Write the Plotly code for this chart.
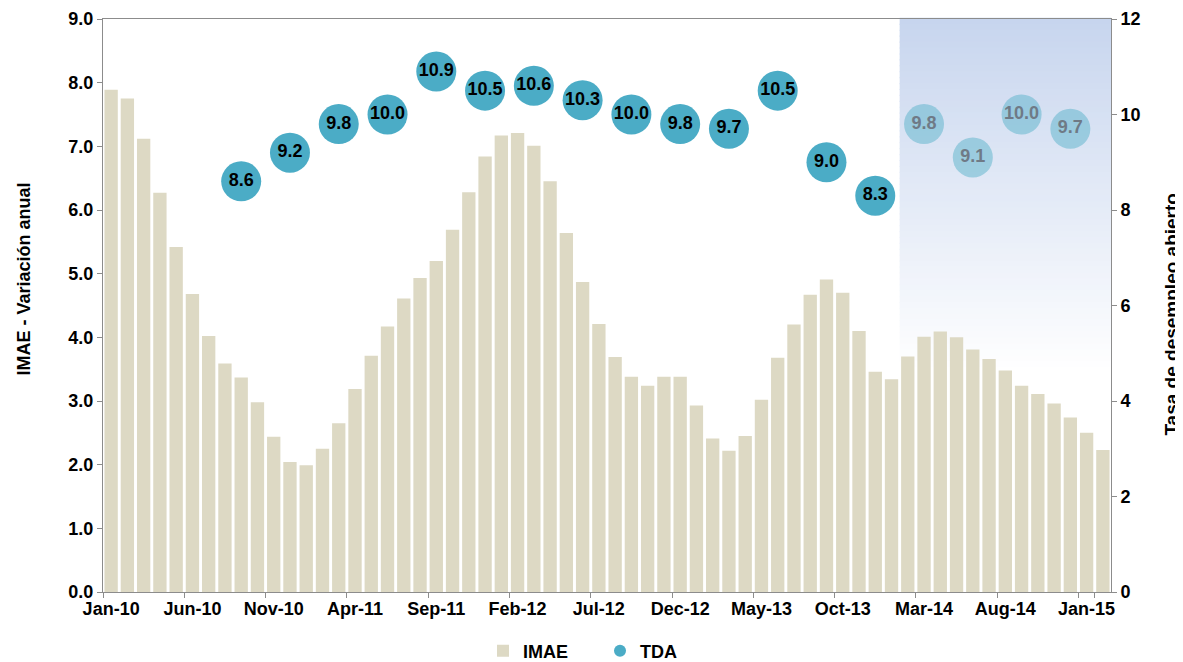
import plotly.graph_objects as go

months = [
    "Jan-10", "Feb-10", "Mar-10", "Apr-10", "May-10", "Jun-10", "Jul-10", "Aug-10", "Sep-10", "Oct-10", "Nov-10", "Dec-10",
    "Jan-11", "Feb-11", "Mar-11", "Apr-11", "May-11", "Jun-11", "Jul-11", "Aug-11", "Sep-11", "Oct-11", "Nov-11", "Dec-11",
    "Jan-12", "Feb-12", "Mar-12", "Apr-12", "May-12", "Jun-12", "Jul-12", "Aug-12", "Sep-12", "Oct-12", "Nov-12", "Dec-12",
    "Jan-13", "Feb-13", "Mar-13", "Apr-13", "May-13", "Jun-13", "Jul-13", "Aug-13", "Sep-13", "Oct-13", "Nov-13", "Dec-13",
    "Jan-14", "Feb-14", "Mar-14", "Apr-14", "May-14", "Jun-14", "Jul-14", "Aug-14", "Sep-14", "Oct-14", "Nov-14", "Dec-14",
    "Jan-15", "Feb-15",
]

imae = [
    7.89, 7.75, 7.12, 6.27, 5.42, 4.68, 4.02, 3.59, 3.37, 2.98, 2.44, 2.04,
    1.99, 2.25, 2.65, 3.19, 3.71, 4.17, 4.61, 4.93, 5.20, 5.69, 6.28, 6.84,
    7.17, 7.21, 7.01, 6.45, 5.64, 4.87, 4.21, 3.69, 3.38, 3.24, 3.38, 3.38,
    2.93, 2.41, 2.22, 2.45, 3.02, 3.68, 4.20, 4.67, 4.91, 4.70, 4.10, 3.46,
    3.34, 3.70, 4.01, 4.09, 4.00, 3.81, 3.66, 3.48, 3.24, 3.11, 2.96, 2.74,
    2.50, 2.23,
]

tda_months = ["Sep-10", "Dec-10", "Mar-11", "Jun-11", "Sep-11", "Dec-11", "Mar-12", "Jun-12", "Sep-12",
              "Dec-12", "Mar-13", "Jun-13", "Sep-13", "Dec-13", "Mar-14", "Jun-14", "Sep-14", "Dec-14"]
tda = [8.6, 9.2, 9.8, 10.0, 10.9, 10.5, 10.6, 10.3, 10.0,
       9.8, 9.7, 10.5, 9.0, 8.3, 9.8, 9.1, 10.0, 9.7]
tda_estimated = [False] * 14 + [True] * 4

tick_labels = months[::5]

left_title = "IMAE - Variación anual"
right_title = "Tasa de desempleo abierto"

shade_start = "Jan-14"  # shaded (projected) period begins after this month

BAR_COLOR = "#ddd9c4"
BUBBLE = "#4bacc6"
BUBBLE_LIGHT = "rgba(75,172,198,0.45)"
FONT = "Liberation Sans, Arial, sans-serif"

fig = go.Figure()

fig.add_trace(go.Bar(
    x=months, y=imae, name="IMAE", marker=dict(color=BAR_COLOR, line=dict(width=0)),
    yaxis="y", hoverinfo="x+y",
))

fig.add_trace(go.Scatter(
    x=tda_months, y=tda, name="TDA", yaxis="y2", mode="markers",
    marker=dict(size=40, color=[BUBBLE_LIGHT if e else BUBBLE for e in tda_estimated], line=dict(width=0)),
))
fig.add_trace(go.Scatter(
    x=tda_months, y=tda, yaxis="y2", mode="text", showlegend=False, hoverinfo="skip",
    text=[f"{v:.1f}" for v in tda],
    textfont=dict(family=FONT, size=18, weight="bold",
                  color=["#6f7a86" if e else "#000000" for e in tda_estimated]),
))

# vertical gradient for the shaded (projected) period
top = (199, 213, 238)
n_bands = 60
white_at = 0.38
x0 = months.index(shade_start) + 0.5
x1 = len(months) - 0.5
for i in range(n_bands):
    ya = 1 - (1 - white_at) * i / n_bands
    yb = 1 - (1 - white_at) * (i + 1) / n_bands
    t = (i + 0.5) / n_bands
    c = tuple(round(top[k] + (255 - top[k]) * t) for k in range(3))
    fig.add_shape(type="rect", xref="x", yref="paper", x0=x0, x1=x1, y0=yb, y1=ya + 0.002,
                  fillcolor=f"rgb{c}", line=dict(width=0), layer="below")

axis_font = dict(family=FONT, size=18, color="#000000", weight="bold")
line_col = "#8c8c8c"

# axis titles (placed as in the reference, slightly off-centre)
fig.add_annotation(text=left_title, xref="paper", yref="paper", x=-0.078, y=0.546,
                   textangle=-90, showarrow=False, font=axis_font,
                   xanchor="center", yanchor="middle")
fig.add_annotation(text=right_title, xref="paper", yref="paper", x=1.060, y=0.485,
                   textangle=-90, showarrow=False, font=dict(axis_font, size=19),
                   xanchor="center", yanchor="middle")

# the page body adds an 8px margin on the left and top
fig.update_layout(
    width=1175, height=654,
    margin=dict(l=95, r=72, t=11, b=70, autoexpand=False),
    plot_bgcolor="white", paper_bgcolor="white",
    font=dict(family=FONT, size=18, color="#000000"),
    bargap=0.18,
    showlegend=True,
    legend=dict(orientation="h", x=0.377, xanchor="left", y=-0.103, yanchor="middle",
                font=dict(family=FONT, size=18, weight="bold"), entrywidth=72,
                itemsizing="constant", bgcolor="rgba(0,0,0,0)"),
    xaxis=dict(
        type="category", categoryorder="array", categoryarray=months,
        range=[-0.5, len(months) - 0.5],
        tickmode="array", tickvals=tick_labels, ticktext=tick_labels,
        tickson="boundaries", ticks="outside", ticklen=5, tickcolor=line_col,
        showline=True, linecolor=line_col, linewidth=1, mirror=True,
        showgrid=False, tickfont=axis_font, tickangle=0,
    ),
    yaxis=dict(
        range=[0, 9], dtick=1, tickformat=".1f", ticks="outside", ticklen=5, tickcolor=line_col,
        showline=True, linecolor=line_col, linewidth=1, showgrid=False, zeroline=False,
        tickfont=axis_font,
    ),
    yaxis2=dict(
        overlaying="y", side="right", range=[0, 12], dtick=2, ticks="outside", ticklen=5,
        tickcolor=line_col, showline=True, linecolor=line_col, linewidth=1, showgrid=False,
        zeroline=False, tickfont=axis_font,
    ),
)

fig.write_html("out.html")
